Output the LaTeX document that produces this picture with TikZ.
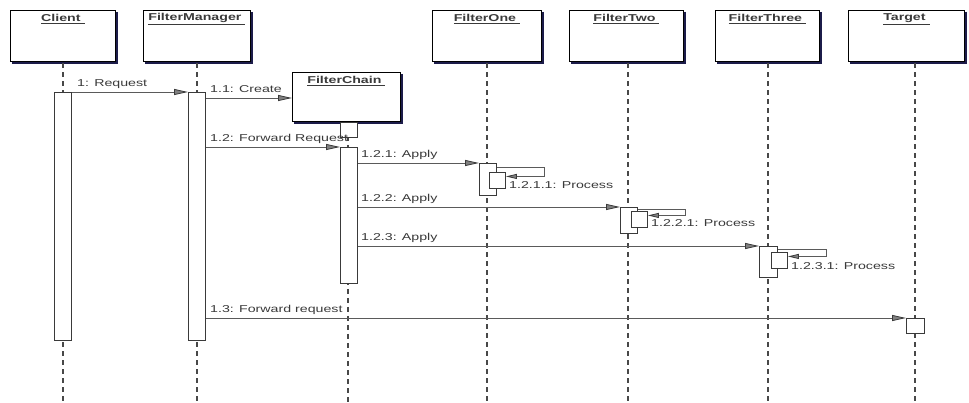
\documentclass[tikz,border=0pt]{standalone}
\usepackage{fontspec}
\setmainfont{Liberation Sans}[FakeStretch=1.42]
\usetikzlibrary{arrows.meta}
\definecolor{navy}{HTML}{1C1C4A}
\definecolor{ink}{HTML}{3A3A3A}
\definecolor{wire}{HTML}{5A5A5A}
\begin{document}
\begin{tikzpicture}[x=1pt,y=-1pt,
  font=\fontsize{10}{12}\selectfont,
  hdr/.style={draw=black, line width=0.8pt, fill=white, anchor=north west, inner sep=0pt},
  hdrshade/.style={draw=navy, line width=2.4pt},
  ttl/.style={text=ink, font=\fontsize{10}{12}\selectfont\bfseries, inner sep=0pt},
  life/.style={draw=wire!80!black, line width=1.3pt, dash pattern=on 5pt off 4pt},
  bar/.style={draw=ink, line width=0.9pt, fill=white, anchor=north west,
    inner sep=0pt, minimum width=17pt},
  msg/.style={draw=wire, line width=0.8pt,
    -{Triangle[length=14pt,width=6pt,color=ink,fill=gray]}},
  selfmsg/.style={draw=wire, line width=0.8pt,
    -{Triangle[length=11pt,width=5pt,color=ink,fill=gray]}},
  lbl/.style={text=ink, anchor=west, inner sep=0pt}]

\useasboundingbox[fill=white] (0,0) rectangle (969,403);

% object heads
\node[hdr, minimum width=105pt, minimum height=51pt] (client) at (10,10) {};
\node[hdr, minimum width=107pt, minimum height=51pt] (fm) at (143,10) {};
\node[hdr, minimum width=109pt, minimum height=51pt] (f1) at (432,10) {};
\node[hdr, minimum width=114pt, minimum height=51pt] (f2) at (569,10) {};
\node[hdr, minimum width=104pt, minimum height=51pt] (f3) at (715,10) {};
\node[hdr, minimum width=116pt, minimum height=51pt] (tg) at (848,10) {};
\node[hdr, minimum width=108pt, minimum height=49pt] (fc) at (292,72) {};

% heavy right and bottom edges of the heads
\foreach \n in {client,fm,f1,f2,f3,tg,fc}
  \draw[hdrshade] ([shift={(1.2,2)}]\n.north east) |- ([shift={(2,1.2)}]\n.south west);

\node[ttl] (tclient) at ([yshift=-9pt]client.north) {\underline{Client\ }};
\node[ttl] (tfm) at ([yshift=-9pt]fm.north) {\underline{FilterManager\ }};
\node[ttl] (tf1) at ([yshift=-9pt]f1.north) {\underline{FilterOne\ }};
\node[ttl] (tf2) at ([yshift=-9pt]f2.north) {\underline{FilterTwo\ }};
\node[ttl] (tf3) at ([yshift=-9pt]f3.north) {\underline{FilterThree\ }};
\node[ttl] (ttg) at ([yshift=-9pt]tg.north) {\underline{Target\ }};
\node[ttl] (tfc) at ([yshift=-9pt]fc.north) {\underline{FilterChain\ }};

% lifelines
\draw[life] ([yshift=-1.5pt]client.south -| 63,0) -- (63,403);
\draw[life] ([yshift=-1.5pt]fm.south -| 197,0) -- (197,403);
\draw[life] (348,136) -- (348,403);
\draw[life] ([yshift=-1.5pt]f1.south -| 487,0) -- (487,403);
\draw[life] ([yshift=-1.5pt]f2.south -| 628,0) -- (628,403);
\draw[life] ([yshift=-1.5pt]f3.south -| 768,0) -- (768,403);
\draw[life] ([yshift=-1.5pt]tg.south -| 915,0) -- (915,403);

% activation bars
\node[bar, minimum height=248pt] (cb) at (54,92) {};
\node[bar, minimum height=248pt] (fmb) at (188,92) {};
\node[bar, minimum height=15pt] (fcc) at (340,122) {};
\node[bar, minimum height=136pt] (fcb) at (340,147) {};
\node[bar, minimum height=32pt] (f1b) at (479,163) {};
\node[bar, minimum height=16pt, minimum width=16pt] (f1i) at (489,172) {};
\node[bar, minimum height=26pt] (f2b) at (620,207) {};
\node[bar, minimum height=16pt, minimum width=16pt] (f2i) at (631,211) {};
\node[bar, minimum height=31pt, minimum width=18pt] (f3b) at (759,246) {};
\node[bar, minimum height=16pt, minimum width=16pt] (f3i) at (771,252) {};
\node[bar, minimum height=15pt, minimum width=18pt] (tb) at (906,318) {};

% messages
\draw[msg] (cb.north east) -- (fmb.north west);
\node[lbl] (l1) at (77,84) {1: Request};

\draw[msg] (fmb.east |- 0,98) -- (fc.west |- 0,98);
\node[lbl] (l11) at (210,89) {1.1: Create};

\draw[msg] (fmb.east |- fcb.north) -- (fcb.north west);
\node[lbl] (l12) at (210,139) {1.2: Forward Request};

\draw[msg] (fcb.east |- f1b.north) -- (f1b.north west);
\node[lbl] (l121) at (361,155) {1.2.1: Apply};

\draw[msg] (fcb.east |- f2b.north) -- (f2b.north west);
\node[lbl] (l122) at (361,199) {1.2.2: Apply};

\draw[msg] (fcb.east |- f3b.north) -- (f3b.north west);
\node[lbl] (l123) at (361,238) {1.2.3: Apply};

\draw[msg] (fmb.east |- tb.north) -- (tb.north west);
\node[lbl] (l13) at (210,310) {1.3: Forward request};

% self calls
\draw[selfmsg] ([yshift=-4pt]f1b.north east) -- ++(47,0) |- ([yshift=4pt]f1i.east);
\node[lbl] (l1211) at (509,185) {1.2.1.1: Process};

\draw[selfmsg] ([yshift=-2pt]f2b.north east) -- ++(47,0) |- ([yshift=4pt]f2i.east);
\node[lbl] (l1221) at (651,223) {1.2.2.1: Process};

\draw[selfmsg] ([yshift=-3pt]f3b.north east) -- ++(48,0) |- ([yshift=4pt]f3i.east);
\node[lbl] (l1231) at (791,266) {1.2.3.1: Process};

\end{tikzpicture}
\end{document}
